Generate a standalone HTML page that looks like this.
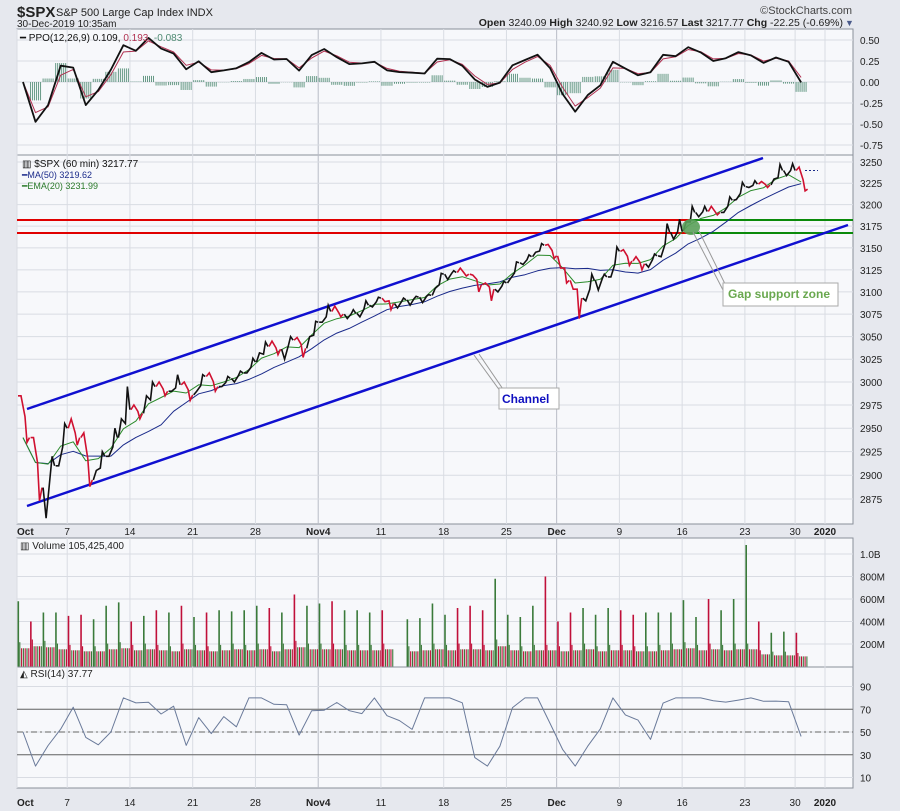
<!DOCTYPE html>
<html><head><meta charset="utf-8"><style>
html,body{margin:0;padding:0;background:#e6e8ee;}
svg{display:block;font-family:"Liberation Sans",sans-serif;}
</style></head><body>
<svg id="c" width="900" height="811" viewBox="0 0 900 811" xmlns="http://www.w3.org/2000/svg">
<rect x="0" y="0" width="900" height="811" fill="#e6e8ee"/>
<text x="17" y="17" font-size="15" font-weight="bold" fill="#222">$SPX</text>
<text x="56" y="16" font-size="11" fill="#222">S&amp;P 500 Large Cap Index  INDX</text>
<text x="17" y="27" font-size="10" fill="#222">30-Dec-2019 10:35am</text>
<text x="852" y="14" font-size="11" fill="#444" text-anchor="end">©StockCharts.com</text>
<text x="843" y="26" font-size="10.5" fill="#222" text-anchor="end"><tspan font-weight="bold">Open</tspan> 3240.09 <tspan font-weight="bold">High</tspan> 3240.92 <tspan font-weight="bold">Low</tspan> 3216.57 <tspan font-weight="bold">Last</tspan> 3217.77 <tspan font-weight="bold">Chg</tspan> -22.25 (-0.69%)</text>
<text x="845" y="26" font-size="9" fill="#4a5a8a">▼</text>
<g id="g"></g>
</svg>
<script>
const days=["Oct1","Oct2","Oct3","Oct4","Oct7","Oct8","Oct9","Oct10","Oct11","Oct14","Oct15","Oct16","Oct17","Oct18","Oct21","Oct22","Oct23","Oct24","Oct25","Oct28","Oct29","Oct30","Oct31","Nov1","Nov4","Nov5","Nov6","Nov7","Nov8","Nov11","Nov12","Nov13","Nov14","Nov15","Nov18","Nov19","Nov20","Nov21","Nov22","Nov25","Nov26","Nov27","Nov29","Dec2","Dec3","Dec4","Dec5","Dec6","Dec9","Dec10","Dec11","Dec12","Dec13","Dec16","Dec17","Dec18","Dec19","Dec20","Dec23","Dec24","Dec26","Dec27","Dec30"];
const closes=[2940,2887,2910,2950,2940,2895,2920,2940,2970,2966,2995,2990,2997,2986,3006,2995,3004,3010,3022,3039,3036,3046,3037,3066,3078,3075,3076,3085,3093,3087,3091,3094,3096,3120,3122,3120,3108,3103,3110,3133,3140,3153,3141,3113,3093,3113,3117,3146,3135,3132,3141,3168,3169,3191,3192,3191,3205,3221,3224,3223,3240,3240,3218];
const highs=[2985,2940,2920,2955,2960,2945,2925,2950,2995,2975,3000,3000,3008,3000,3008,3010,3006,3012,3026,3044,3045,3050,3049,3067,3085,3084,3080,3090,3094,3089,3093,3095,3097,3121,3124,3127,3119,3110,3112,3134,3142,3155,3154,3127,3103,3120,3120,3151,3148,3140,3143,3178,3183,3198,3198,3198,3209,3226,3228,3227,3247,3248,3244];
const lows=[2935,2873,2855,2910,2932,2888,2905,2920,2960,2960,2985,2985,2990,2980,2990,2990,2995,3000,3010,3032,3030,3025,3027,3050,3066,3072,3070,3072,3083,3080,3082,3085,3088,3104,3114,3118,3100,3090,3100,3115,3131,3145,3138,3110,3070,3090,3102,3117,3130,3125,3128,3140,3160,3180,3186,3188,3191,3206,3220,3220,3230,3234,3216];
const volPeak=[580,400,480,480,450,460,420,540,570,400,450,500,480,540,440,480,500,490,500,540,520,480,640,540,560,580,500,500,480,500,0,420,430,560,460,520,540,500,780,460,440,540,800,400,480,520,460,520,500,460,480,480,480,590,440,600,500,600,1080,400,300,310,300];
const volBase=[180,200,190,170,160,150,150,170,180,160,170,160,150,170,160,150,160,170,160,170,150,170,190,170,170,170,160,160,160,170,0,150,160,170,160,170,170,160,200,160,150,160,160,150,160,170,150,160,160,150,150,160,170,180,160,170,160,170,170,120,110,110,100];
const ppoTicks=[0.5,0.25,0,-0.25,-0.5,-0.75];
const priceTicks=[3250,3225,3200,3175,3150,3125,3100,3075,3050,3025,3000,2975,2950,2925,2900,2875];
const volTicks=[200,400,600,800,1000];
const volTickLabels=["200M","400M","600M","800M","1.0B"];
const rsiTicks=[90,70,50,30,10];
const dateLabels=["Oct","7","14","21","28","Nov4","11","18","25","Dec","9","16","23","30","2020"];
const dateIdx=[0,4,9,14,19,24,29,34,39,43,48,53,58,62,64];

const NS="http://www.w3.org/2000/svg";
const G=document.getElementById("g");
function el(t,a,p){const e=document.createElementNS(NS,t);for(const k in a)e.setAttribute(k,a[k]);(p||G).appendChild(e);return e;}
const L=17,R=853;
const xD=i=>L+i*12.55;
const xC=i=>xD(i)+6;
const yPrice=p=>162+(Math.log(3250)-Math.log(p))*2749;
const yPPO=v=>82-v*84;
const yVol=v=>666.5-v*0.1125;
const yRSI=v=>732-(v-50)*1.1375;

const panels=[["ppo-panel",29,155],["price-panel",155,524],["volume-panel",538,667],["rsi-panel",667,788]];
panels.forEach(p=>{const r=el("rect",{x:L,y:p[1],width:R-L,height:p[2]-p[1],fill:"#f7f8fb",stroke:"#8a8f9a","stroke-width":1});

});

dateIdx.forEach((d,k)=>{const x=k===0?L:(k===14?825:xD(d));
 panels.forEach(p=>{const ln=el("line",{x1:x,x2:x,y1:p[1],y2:p[2],stroke:k===5||k===9?"#b8bcc6":"#d9dce3","stroke-width":1});
 
 });
 [535,806].forEach(yy=>{const t=el("text",{x:x,y:yy,"font-size":10,"font-weight":(k===0||k===5||k===9||k===14)?"bold":"normal",fill:"#222","text-anchor":k===0?"start":"middle"});
 t.textContent=dateLabels[k];
 
 });
});

function hgrid(vals,labels,yf,name){vals.forEach((v,i)=>{const y=yf(v);
 const ln=el("line",{x1:L,x2:R,y1:y,y2:y,stroke:"#d9dce3"});
 
 
 const t=el("text",{x:860,y:y+4,"font-size":10,fill:"#222"});
 t.textContent=labels[i];
 
 });}
hgrid(ppoTicks,ppoTicks.map(v=>v.toFixed(2)),yPPO,"ppo");
hgrid(priceTicks,priceTicks.map(String),yPrice,"price");
hgrid(volTicks,volTickLabels,yVol,"volume");
hgrid(rsiTicks,rsiTicks.map(String),yRSI,"rsi");

function ema(a,n){const k=2/(n+1);let o=[],e=a[0];a.forEach((v,i)=>{e=i?v*k+e*(1-k):v;o.push(e);});return o;}
function sma(a,n){return a.map((v,i)=>{const s=a.slice(Math.max(0,i-n+1),i+1);return s.reduce((x,y)=>x+y,0)/s.length;});}
const ma50=sma(closes,7), ema20=ema(closes,3);
const e12=ema(closes,2.2), e26=ema(closes,4.5);
const ppo=e12.map((v,i)=>(v-e26[i])/e26[i]*100);
const sig=ema(ppo,1.6);
const hist=ppo.map((v,i)=>v-sig[i]);
const rsi=closes.map((c,i)=>{let g=0,l=0;for(let j=Math.max(1,i-2);j<=i;j++){const d=closes[j]-closes[j-1];if(d>0)g+=d;else l-=d;}if(i===0)return 50;if(g+l===0)return 50;return 100*g/(g+l)*0.6+20;});

function poly(vals,xf,yf,attrs,name){const pts=vals.map((v,i)=>xf(i).toFixed(1)+","+yf(v).toFixed(1)).join(" ");
 const p=el("polyline",Object.assign({points:pts,fill:"none","stroke-linejoin":"round"},attrs));
 
 return p;}

// PPO histogram: thin lines
hist.forEach((h,i)=>{const y0=yPPO(0),y1=yPPO(h*2);
 for(let k=0;k<6;k++){const x=xD(i)+1+k*2;
 const r=el("line",{x1:x,x2:x,y1:y0,y2:y1,stroke:"#4e8a72","stroke-width":1,opacity:0.85});
 
 }});
poly(sig,xC,yPPO,{stroke:"#b03050","stroke-width":1},"ppo-signal-line");
poly(ppo,xC,yPPO,{stroke:"#111","stroke-width":1.8},"ppo-line");

const ann=[["resistance-line-upper",17,220,690,220,"#e00000",2],["resistance-line-lower",17,233,690,233,"#e00000",2],
["gap-support-upper",690,220,853,220,"#0a8a0a",2],["gap-support-lower",690,233,853,233,"#0a8a0a",2],
["channel-upper-line",27,409,763,158,"#1010d0",2.5],["channel-lower-line",27,506,848,225,"#1010d0",2.5]];
ann.forEach(a=>{const ln=el("line",{x1:a[1],y1:a[2],x2:a[3],y2:a[4],stroke:a[5],"stroke-width":a[6]});
 
 });

poly(ma50,xC,yPrice,{stroke:"#1a2a8a","stroke-width":1},"ma50-line");
poly(ema20,xC,yPrice,{stroke:"#2a8a2a","stroke-width":1},"ema20-line");
closes.forEach((c,i)=>{const o=i?closes[i-1]:2985;const x0=xD(i)+1;
 const col=c<o?"#d01030":"#111";
 const mid1=c>=o?lows[i]:highs[i], mid2=c>=o?highs[i]:lows[i];
 const pts=[[x0,o],[x0+3,mid1],[x0+7,(o+c)/2],[x0+9,mid2],[x0+11.5,c]].map(p=>p[0].toFixed(1)+","+yPrice(p[1]).toFixed(1)).join(" ");
 const b=el("polyline",{points:pts,fill:"none",stroke:col,"stroke-width":1.6});
 
 });
const dl=el("line",{x1:805,x2:818,y1:yPrice(3240),y2:yPrice(3240),stroke:"#1a2a8a","stroke-dasharray":"2,2"});



const ell=el("ellipse",{cx:691,cy:227,rx:9,ry:8,fill:"#5aa05a",opacity:0.9});


[["gap-callout-pointer","M693,232 L723,290 M699,231 L728,290"],["channel-callout-pointer","M474,355 L503,395 M479,354 L507,395"]].forEach(a=>{
 const p=el("path",{d:a[1],stroke:"#999","stroke-width":1,fill:"none"});
 
 });
const gb=el("rect",{x:723,y:283,width:115,height:23,fill:"#fff",stroke:"#aaa"});


const gt=el("text",{x:728,y:298,"font-size":12,"font-weight":"bold",fill:"#6aa84f"});gt.textContent="Gap support zone";


const cb=el("rect",{x:499,y:388,width:60,height:21,fill:"#fff",stroke:"#aaa"});


const ct=el("text",{x:502,y:403,"font-size":12,"font-weight":"bold",fill:"#1010c0"});ct.textContent="Channel";



// volume: thin bars
volPeak.forEach((v,i)=>{const up=i===0||closes[i]>=closes[i-1];
 if(volBase[i]>0){for(let k=1;k<7;k++){const x=xD(i)+1+k*1.8;const col=(k%2)?(up?"#3a7a3a":"#c0103a"):(up?"#c0103a":"#3a7a3a");
 const hv=volBase[i]*(k===1?1.2:0.9);
 const r=el("line",{x1:x,x2:x,y1:yVol(hv),y2:666.5,stroke:col,"stroke-width":1.1});
 
 }}
 if(v>0){const r=el("rect",{x:xD(i)+0.5,y:yVol(v),width:1.6,height:666.5-yVol(v),fill:up?"#3a7a3a":"#c0103a"});
 
 }});

[70,30].forEach(v=>{const ln=el("line",{x1:L,x2:R,y1:yRSI(v),y2:yRSI(v),stroke:"#666"});
 
 });
const ml=el("line",{x1:L,x2:R,y1:yRSI(50),y2:yRSI(50),stroke:"#666","stroke-dasharray":"6,3,2,3"});


poly(rsi,xC,yRSI,{stroke:"#6a7a9a","stroke-width":1},"rsi-line");

const leg=[["price-legend",22,167,"#111","▥ $SPX (60 min) 3217.77",10],["ma50-legend",22,178,"#1a2a8a","━MA(50) 3219.62",9],["ema20-legend",22,189,"#2a7a2a","━EMA(20) 3231.99",9],["volume-legend",20,549,"#222","▥ Volume 105,425,400",10],["rsi-legend",20,677,"#222","◭ RSI(14) 37.77",10]];
leg.forEach(a=>{const t=el("text",{x:a[1],y:a[2],"font-size":a[5],fill:a[3]});t.textContent=a[4];
 
 });
const pl=el("text",{x:20,y:41,"font-size":10,fill:"#111"});
pl.innerHTML='━ PPO(12,26,9) 0.109, <tspan fill="#b03050">0.193,</tspan> <tspan fill="#4e8a72">-0.083</tspan>';


</script>
</body></html>
